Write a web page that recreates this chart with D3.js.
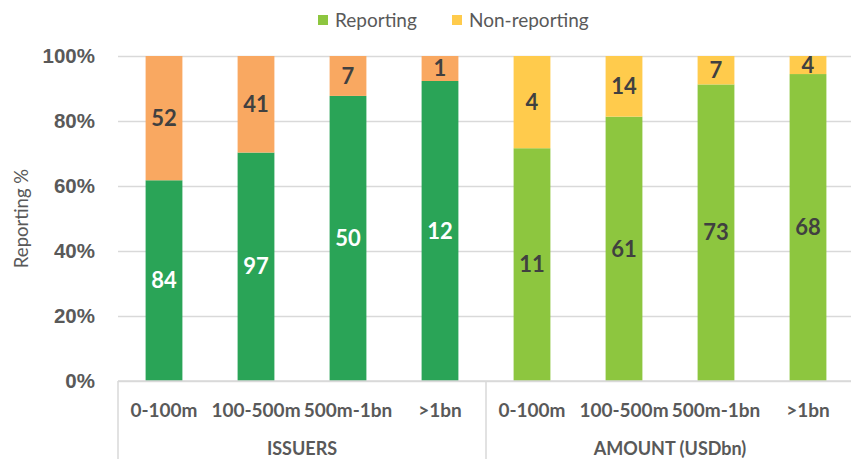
<script src="https://d3js.org/d3.v7.min.js"></script>
<style>
body { margin: 0; background: #fff; }
svg { display: block; font-family: Lato, 'Open Sans', sans-serif; }
</style>

<svg width="851" height="459"></svg>

<script>
const categories = ['0-100m', '100-500m', '500m-1bn', '>1bn'];
const groups = ['ISSUERS', 'AMOUNT (USDbn)'];

const issuersReporting = [84, 97, 50, 12];
const issuersNonReporting = [52, 41, 7, 1];
const amountReporting = [10.6, 61, 73, 68];
const amountNonReporting = [4.2, 14, 7, 4];

const yTicks = [0, 0.2, 0.4, 0.6, 0.8, 1];

const colors = {
  ISSUERS: { rep: '#2aa457', non: '#f9a861', repText: '#ffffff', nonText: '#404040' },
  'AMOUNT (USDbn)': { rep: '#8dc63f', non: '#ffcb4c', repText: '#404040', nonText: '#404040' }
};

const rows = [];
groups.forEach((g, gi) => {
  const rep = gi === 0 ? issuersReporting : amountReporting;
  const non = gi === 0 ? issuersNonReporting : amountNonReporting;
  categories.forEach((c, i) => {
    rows.push({ key: g + '|' + c, group: g, cat: c, rep: rep[i], non: non[i] });
  });
});

const svg = d3.select('svg');
const plotLeft = 118, plotRight = 854, plotTop = 56, plotBottom = 381;

const x = d3.scaleBand()
  .domain(rows.map(d => d.key))
  .range([plotLeft, plotRight])
  .paddingInner(0.6)
  .paddingOuter(0.3);

const y = d3.scaleLinear().domain([0, 1]).range([plotBottom, plotTop]);
const share = d => d.rep / (d.rep + d.non);

// gridlines + tick labels
const yAxis = svg.append('g')
  .attr('transform', `translate(${plotLeft},0)`)
  .call(d3.axisLeft(y).tickValues(yTicks).tickFormat(d3.format('.0%'))
    .tickSize(-(plotRight - plotLeft)).tickPadding(23));
yAxis.select('.domain').remove();
yAxis.selectAll('line').attr('stroke', '#d9d9d9').attr('stroke-width', 1.5);
yAxis.selectAll('text')
  .attr('fill', '#595959')
  .style('font-size', '20.5px')
  .style('font-weight', 'bold');

svg.append('text')
  .attr('transform', `translate(22,${(plotTop + plotBottom) / 2}) rotate(-90)`)
  .attr('text-anchor', 'middle')
  .attr('dy', '0.35em')
  .attr('fill', '#595959')
  .style('font-size', '18.5px')
  .text('Reporting %');

// bars
const bar = svg.selectAll('.bar')
  .data(rows)
  .enter()
  .append('g')
  .attr('class', 'bar');

bar.append('rect')
  .attr('x', d => x(d.key))
  .attr('width', x.bandwidth())
  .attr('y', d => y(share(d)))
  .attr('height', d => plotBottom - y(share(d)))
  .attr('fill', d => colors[d.group].rep);

bar.append('rect')
  .attr('x', d => x(d.key))
  .attr('width', x.bandwidth())
  .attr('y', plotTop)
  .attr('height', d => y(share(d)) - plotTop)
  .attr('fill', d => colors[d.group].non);

const fmt = d3.format('.0f');

bar.append('text')
  .attr('x', d => x(d.key) + x.bandwidth() / 2)
  .attr('y', d => y(share(d) / 2))
  .attr('dy', '0.35em')
  .attr('text-anchor', 'middle')
  .attr('fill', d => colors[d.group].repText)
  .style('font-size', '22px')
  .style('font-weight', 'bold')
  .text(d => fmt(d.rep));

bar.append('text')
  .attr('x', d => x(d.key) + x.bandwidth() / 2)
  .attr('y', d => (y(share(d)) + plotTop) / 2)
  .attr('dy', '0.35em')
  .attr('text-anchor', 'middle')
  .attr('fill', d => colors[d.group].nonText)
  .style('font-size', '22px')
  .style('font-weight', 'bold')
  .text(d => fmt(d.non));

// bottom axis line and group separators
svg.append('line')
  .attr('x1', plotLeft).attr('x2', plotRight)
  .attr('y1', plotBottom).attr('y2', plotBottom)
  .attr('stroke', '#d9d9d9').attr('stroke-width', 1.5);

const groupStep = x.step() * categories.length;
[0, 1, 2].forEach(i => {
  svg.append('line')
    .attr('x1', plotLeft + i * groupStep).attr('x2', plotLeft + i * groupStep)
    .attr('y1', plotBottom).attr('y2', 459)
    .attr('stroke', '#d9d9d9').attr('stroke-width', 1.5);
});

svg.selectAll('.cat')
  .data(rows)
  .enter()
  .append('text')
  .attr('class', 'cat')
  .attr('x', d => x(d.key) + x.bandwidth() / 2)
  .attr('y', 410)
  .attr('dy', '0.35em')
  .attr('text-anchor', 'middle')
  .attr('fill', '#595959')
  .style('font-size', '19px')
  .style('font-weight', 'bold')
  .text(d => d.cat);

svg.selectAll('.grp')
  .data(groups)
  .enter()
  .append('text')
  .attr('class', 'grp')
  .attr('x', (d, i) => plotLeft + (i + 0.5) * groupStep)
  .attr('y', 449)
  .attr('dy', '0.35em')
  .attr('text-anchor', 'middle')
  .attr('fill', '#595959')
  .style('font-size', '18px')
  .style('font-weight', 'bold')
  .text(d => d);

// legend
const legendItems = [
  { label: 'Reporting', color: colors['AMOUNT (USDbn)'].rep, x: 318 },
  { label: 'Non-reporting', color: colors['AMOUNT (USDbn)'].non, x: 452 }
];
const legend = svg.selectAll('.legend')
  .data(legendItems)
  .enter()
  .append('g')
  .attr('class', 'legend')
  .attr('transform', d => `translate(${d.x},15)`);
legend.append('rect')
  .attr('width', 10).attr('height', 10)
  .attr('fill', d => d.color);
legend.append('text')
  .attr('x', 17).attr('y', 5)
  .attr('dy', '0.35em')
  .attr('fill', '#595959')
  .style('font-size', '19px')
  .text(d => d.label);
</script>
